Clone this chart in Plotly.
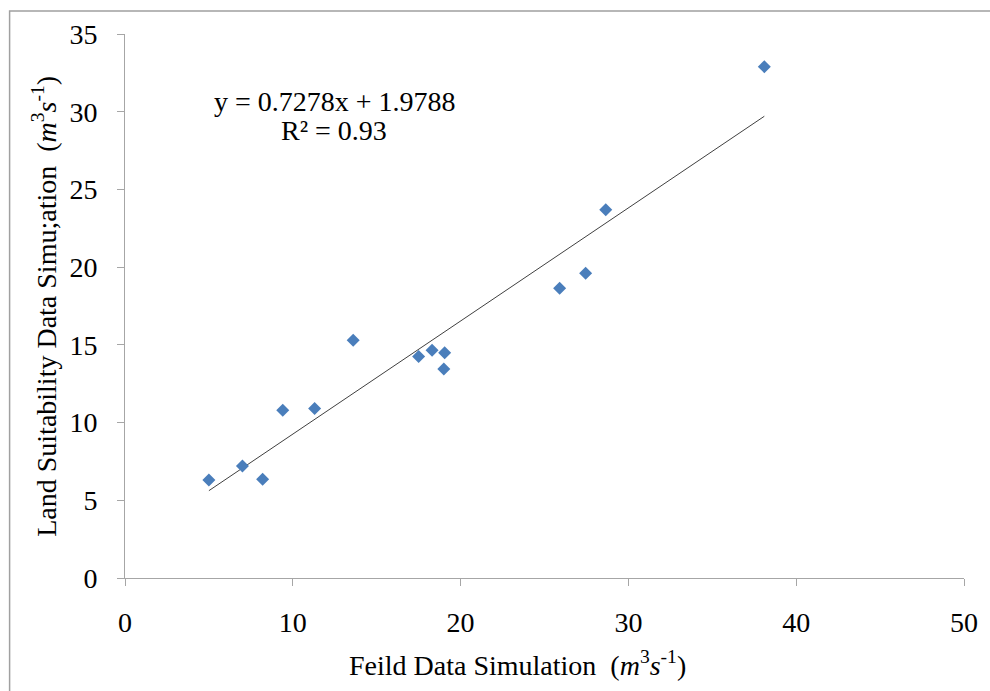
import plotly.graph_objects as go

# Data
field_sim = [5.0, 7.0, 8.2, 9.4, 11.3, 13.6, 17.5, 18.3, 19.05, 19.0, 25.9, 27.45, 28.65, 38.1]
land_sim = [6.3, 7.2, 6.35, 10.8, 10.9, 15.3, 14.25, 14.65, 14.5, 13.45, 18.65, 19.6, 23.7, 32.9]

slope = 0.7278
intercept = 1.9788
r2_text = "0.93"

x_ticks = [0, 10, 20, 30, 40, 50]
y_ticks = [0, 5, 10, 15, 20, 25, 30, 35]

FONT = "Liberation Serif, Times New Roman, serif"
FS = 28
AXIS_COLOR = "#a6a6a6"

trend_x = [min(field_sim), max(field_sim)]
trend_y = [slope * v + intercept for v in trend_x]

fig = go.Figure()
fig.add_trace(go.Scatter(
    x=trend_x, y=trend_y, mode="lines",
    line=dict(color="#404040", width=1), showlegend=False, hoverinfo="skip"))
fig.add_trace(go.Scatter(
    x=field_sim, y=land_sim, mode="markers",
    marker=dict(symbol="diamond", size=10, color="#4a7ebb", line=dict(width=0)),
    showlegend=False))

W, H = 990, 691
PLOT_L, PLOT_R, PLOT_T, PLOT_B = 125, 972, 34, 578   # target window pixels
L, T = PLOT_L, PLOT_T
R = W - PLOT_R
B = H - PLOT_B

fig.update_layout(
    width=W, height=H,
    margin=dict(l=L, r=R, t=T, b=B),
    paper_bgcolor="white", plot_bgcolor="white",
    font=dict(family=FONT, size=FS, color="black"),
    xaxis=dict(range=[0, 50], tickvals=x_ticks, showgrid=False, zeroline=False,
               showline=True, linecolor=AXIS_COLOR, linewidth=1,
               ticks="outside", ticklen=7, tickcolor=AXIS_COLOR,
               tickfont=dict(family=FONT, size=FS, color="black"),
               ticklabelstandoff=12),
    yaxis=dict(range=[0, 35], tickvals=y_ticks, showgrid=False, zeroline=False,
               showline=True, linecolor=AXIS_COLOR, linewidth=1,
               ticks="outside", ticklen=7, tickcolor=AXIS_COLOR,
               tickfont=dict(family=FONT, size=FS, color="black"),
               ticklabelstandoff=14),
)

def px_x(p):
    return (p - L) / (W - L - R)

def px_y(p):
    return (H - B - p) / (H - T - B)

def ann(text, x, y, angle=0):
    return dict(text=text, x=px_x(x), y=px_y(y), xref="paper", yref="paper",
                xanchor="center", yanchor="middle", showarrow=False, textangle=angle,
                font=dict(family=FONT, size=FS, color="black"))

annotations = [
    ann("y = %.4fx + %.4f" % (slope, intercept), 337, 101),
    ann("R² = %s" % r2_text, 336, 130),
    ann("Feild Data Simulation  (<i>m</i><sup>3</sup><i>s</i><sup>-1</sup>)", 521, 663),
    ann("Land Suitability Data Simu;ation  (<i>m</i><sup>3</sup><i>s</i><sup>-1</sup>)", 43, 306, -90),
]
fig.update_layout(annotations=annotations)

# outer chart-area border (left and top edges visible in the reference)
fig.add_shape(type="rect", xref="paper", yref="paper",
              x0=px_x(8.5), x1=px_x(1010), y0=px_y(720), y1=px_y(11),
              line=dict(color="#a0a0a0", width=1.5), fillcolor="rgba(0,0,0,0)",
              layer="below")

# remove the default page margin so the figure fills the 990x691 window exactly
fig.write_html("out.html", config={"displayModeBar": False},
               post_script="document.body.style.margin='0px';")
